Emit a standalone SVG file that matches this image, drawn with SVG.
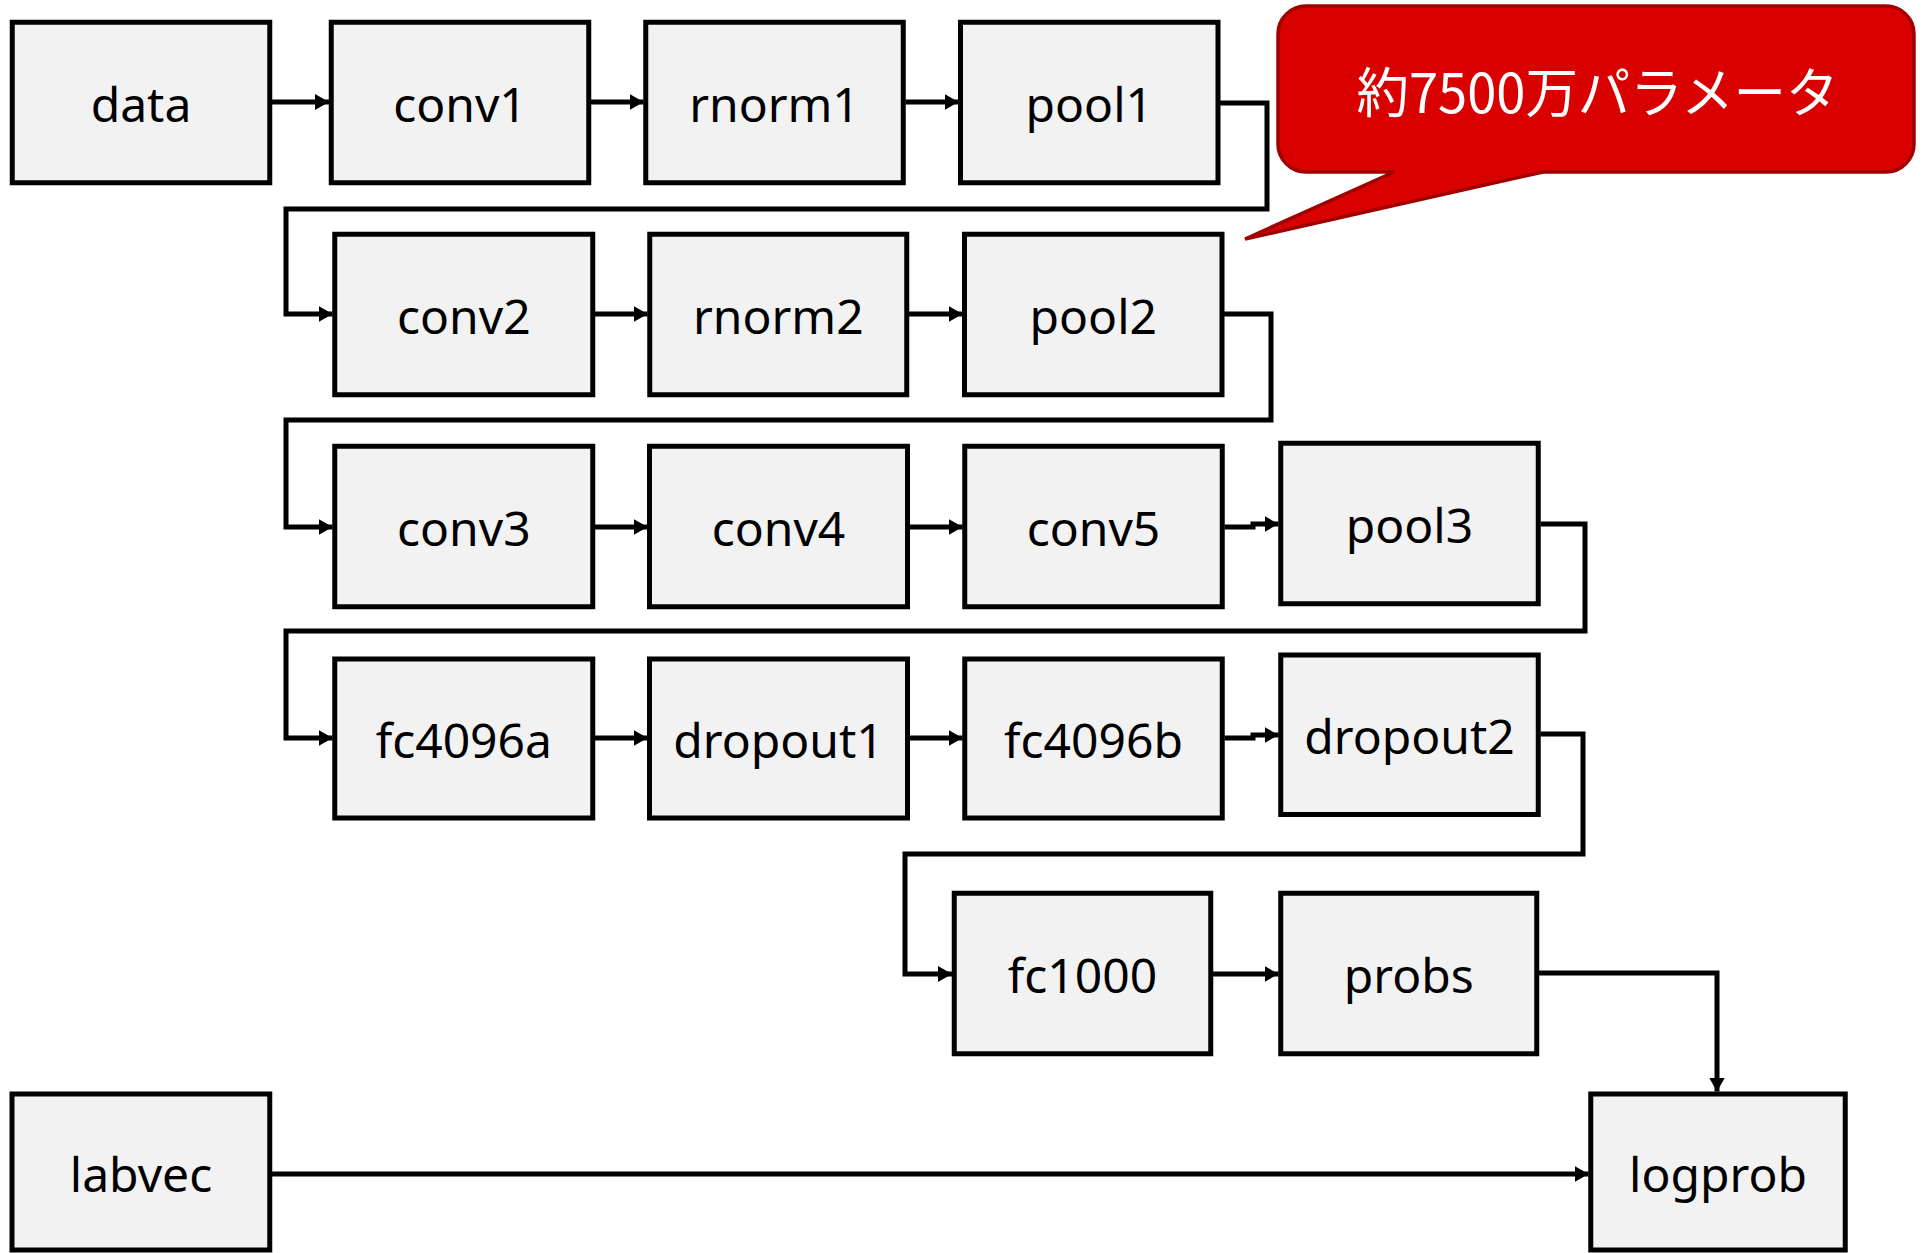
<svg xmlns="http://www.w3.org/2000/svg" width="1930" height="1253" viewBox="0 0 1930 1253">
<style>
.box rect{fill:#F2F2F2;stroke:#000;stroke-width:5}
.box text{font-family:"Noto Sans","DejaVu Sans",sans-serif;font-size:48px;fill:#000;text-anchor:middle}
.con path{fill:none;stroke:#000;stroke-width:5;stroke-linejoin:miter}
.con path.a{marker-end:url(#arr)}
.callout path{fill:#D90000;stroke:#A00000;stroke-width:3.5}
.callout text{font-family:"Noto Sans CJK JP","Noto Sans",sans-serif;font-size:54px;fill:#fff;text-anchor:middle}
</style>
<defs>
<marker id="arr" markerWidth="15" markerHeight="17" refX="14" refY="8.5" orient="auto" markerUnits="userSpaceOnUse">
<path d="M0,0.5 L14,8.5 L0,16.5 z" fill="#000"/>
</marker>
</defs>
<g id="connectors" class="con">
<path class="a" d="M272,102 H329"/>
<path class="a" d="M591,102 H643.5"/>
<path class="a" d="M905.5,102 H958.5"/>
<path class="a" d="M1220,103 H1267 V209 H286 V314 H332.5"/>
<path class="a" d="M595,314 H647.5"/>
<path class="a" d="M909,314 H962.5"/>
<path class="a" d="M1224,314 H1271 V420 H286 V527 H332.5"/>
<path class="a" d="M595,527 H647.5"/>
<path class="a" d="M910,527 H962.5"/>
<path class="a" d="M1224.5,527 H1253 V524 H1278.5"/>
<path class="a" d="M1540.5,524 H1585 V631 H286 V738 H332.5"/>
<path class="a" d="M595,738 H647.5"/>
<path class="a" d="M910,738 H962.5"/>
<path class="a" d="M1224.5,738 H1253 V735 H1278.5"/>
<path class="a" d="M1540.5,734 H1583 V854 H905 V974 H952"/>
<path class="a" d="M1213,974 H1278.5"/>
<path class="a" d="M1538.5,973 H1717 V1091.5"/>
<path class="a" d="M272,1174 H1588.5"/>
</g>
<g id="data" class="box"><rect x="12.25" y="22.25" width="257.5" height="160.5"/><text x="141" y="121.5">data</text></g>
<g id="conv1" class="box"><rect x="331.25" y="22.25" width="257.5" height="160.5"/><text x="460" y="121.5">conv1</text></g>
<g id="rnorm1" class="box"><rect x="645.75" y="22.25" width="257.5" height="160.5"/><text x="774.5" y="121.5">rnorm1</text></g>
<g id="pool1" class="box"><rect x="960.5" y="22.25" width="257.5" height="160.5"/><text x="1089.3" y="121.5">pool1</text></g>
<g id="conv2" class="box"><rect x="334.75" y="234.25" width="258" height="160.5"/><text x="463.8" y="333.5">conv2</text></g>
<g id="rnorm2" class="box"><rect x="649.75" y="234.25" width="257" height="160.5"/><text x="778.3" y="333.5">rnorm2</text></g>
<g id="pool2" class="box"><rect x="964.5" y="234.25" width="257.5" height="160.5"/><text x="1093.3" y="333.5">pool2</text></g>
<g id="conv3" class="box"><rect x="334.75" y="446.25" width="258" height="160.5"/><text x="463.8" y="545.5">conv3</text></g>
<g id="conv4" class="box"><rect x="649.5" y="446.25" width="258" height="160.5"/><text x="778.5" y="545.5">conv4</text></g>
<g id="conv5" class="box"><rect x="964.75" y="446.25" width="257.5" height="160.5"/><text x="1093.5" y="545.5">conv5</text></g>
<g id="pool3" class="box"><rect x="1280.75" y="443.25" width="257.5" height="160.5"/><text x="1409.5" y="542.5">pool3</text></g>
<g id="fc4096a" class="box"><rect x="334.75" y="659" width="258" height="159"/><text x="463.8" y="757.5">fc4096a</text></g>
<g id="dropout1" class="box"><rect x="649.5" y="659" width="258" height="159"/><text x="778.5" y="757.5">dropout1</text></g>
<g id="fc4096b" class="box"><rect x="964.75" y="659" width="257.5" height="159"/><text x="1093.5" y="757.5">fc4096b</text></g>
<g id="dropout2" class="box"><rect x="1280.75" y="655" width="257.5" height="159.5"/><text x="1409.5" y="753.5">dropout2</text></g>
<g id="fc1000" class="box"><rect x="954.25" y="893.25" width="256.5" height="160.5"/><text x="1082.5" y="992.5">fc1000</text></g>
<g id="probs" class="box"><rect x="1280.75" y="893.25" width="256" height="160.5"/><text x="1408.8" y="992.5">probs</text></g>
<g id="labvec" class="box"><rect x="12" y="1094" width="257.75" height="156"/><text x="141" y="1192">labvec</text></g>
<g id="logprob" class="box"><rect x="1590.75" y="1094" width="254.5" height="156"/><text x="1718" y="1192">logprob</text></g>
<g id="callout" class="callout">
<path d="M1306,6 H1886 A28,28 0 0 1 1914,34 V144 A28,28 0 0 1 1886,172 H1543 L1245,239 L1394,172 H1306 A28,28 0 0 1 1278,144 V34 A28,28 0 0 1 1306,6 Z"/>
<text x="1597.5" y="113" textLength="482" lengthAdjust="spacingAndGlyphs">約7500万パラメータ</text>
</g>
</svg>
